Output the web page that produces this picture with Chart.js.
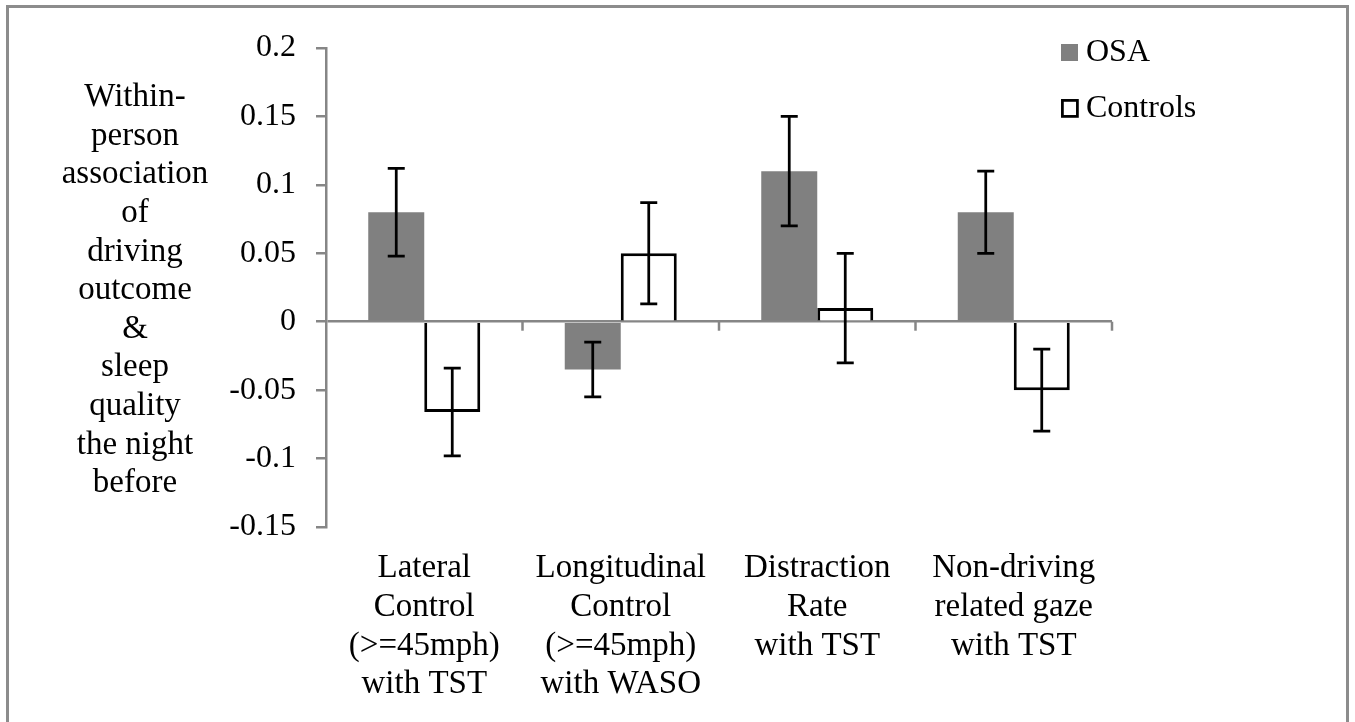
<!DOCTYPE html>
<html>
<head>
<meta charset="utf-8">
<script src="https://cdn.jsdelivr.net/npm/chart.js@4.4.1/dist/chart.umd.min.js"></script>
<style>
  html, body { margin: 0; padding: 0; background: #fff; }
  .frame { position: absolute; left: 6px; top: 5px; width: 1337px; height: 760px; border: 3px solid #8c8c8c; }
  #chart { position: absolute; left: 0; top: 0; }
</style>
</head>
<body>
<div class="frame"></div>
<canvas id="chart" width="1355" height="722"></canvas>
<script>
// categories on the x axis (multi-line)
const categories = [
  ['Lateral', 'Control', '(>=45mph)', 'with TST'],
  ['Longitudinal', 'Control', '(>=45mph)', 'with WASO'],
  ['Distraction', 'Rate', 'with TST'],
  ['Non-driving', 'related gaze', 'with TST']
];
const osaValues = [0.08, -0.035, 0.11, 0.08];
const osaErrors = [0.032, 0.02, 0.04, 0.03];
const controlValues = [-0.066, 0.05, 0.01, -0.05];
const controlErrors = [0.032, 0.037, 0.04, 0.03];
const seriesNames = ['OSA', 'Controls'];
const yMin = -0.15, yMax = 0.2, yStep = 0.05;
const yTitle = ['Within-', 'person', 'association', 'of', 'driving', 'outcome', '&',
  'sleep', 'quality', 'the night', 'before'];

const FONT = "'Liberation Serif', 'Times New Roman', serif";
const AXIS_GRAY = '#868686';
const BAR_GRAY = '#808080';

// error bars, category ticks, y title and legend
const extras = {
  id: 'extras',
  afterDraw(chart) {
    const ctx = chart.ctx;
    const x = chart.scales.x;
    const y = chart.scales.y;
    const area = chart.chartArea;
    const errs = [osaErrors, controlErrors];
    ctx.save();

    // tick marks below the zero line at category boundaries
    const y0 = y.getPixelForValue(0);
    const half = (x.getPixelForValue(1) - x.getPixelForValue(0)) / 2;
    ctx.strokeStyle = AXIS_GRAY;
    ctx.lineWidth = 2.5;
    for (let i = 0; i < categories.length; i++) {
      const px = x.getPixelForValue(i) + half;
      ctx.beginPath();
      ctx.moveTo(px, y0);
      ctx.lineTo(px, y0 + 9);
      ctx.stroke();
    }

    // error bars
    ctx.strokeStyle = '#000';
    ctx.lineWidth = 2.75;
    chart.data.datasets.forEach((ds, di) => {
      chart.getDatasetMeta(di).data.forEach((bar, i) => {
        const v = ds.data[i];
        const top = y.getPixelForValue(v + errs[di][i]);
        const bot = y.getPixelForValue(v - errs[di][i]);
        ctx.beginPath();
        ctx.moveTo(bar.x, top); ctx.lineTo(bar.x, bot);
        ctx.moveTo(bar.x - 8.5, top); ctx.lineTo(bar.x + 8.5, top);
        ctx.moveTo(bar.x - 8.5, bot); ctx.lineTo(bar.x + 8.5, bot);
        ctx.stroke();
      });
    });

    // y axis title, horizontal stacked lines
    ctx.fillStyle = '#000';
    ctx.font = '33px ' + FONT;
    ctx.textAlign = 'center';
    ctx.textBaseline = 'middle';
    const lh = 38.6;
    const mid = (area.top + area.bottom) / 2 + 3;
    const first = mid - lh * (yTitle.length - 1) / 2;
    yTitle.forEach((t, i) => ctx.fillText(t, 135, first + i * lh));

    // legend
    const lx = area.right - 51;
    ctx.fillStyle = BAR_GRAY;
    ctx.fillRect(lx, 44, 17, 17);
    ctx.strokeStyle = '#000';
    ctx.lineWidth = 2.75;
    ctx.strokeRect(lx + 1.4, 100.4, 15, 16);
    ctx.fillStyle = '#000';
    ctx.font = '32px ' + FONT;
    ctx.textAlign = 'left';
    ctx.fillText(seriesNames[0], lx + 25, 53);
    ctx.fillText(seriesNames[1], lx + 25, 109);

    ctx.restore();
  }
};

new Chart(document.getElementById('chart'), {
  type: 'bar',
  data: {
    labels: categories,
    datasets: [
      {
        label: seriesNames[0],
        data: osaValues,
        backgroundColor: BAR_GRAY,
        borderWidth: 0
      },
      {
        label: seriesNames[1],
        data: controlValues,
        backgroundColor: '#fff',
        borderColor: '#000',
        borderWidth: 3
      }
    ]
  },
  options: {
    responsive: false,
    animation: false,
    categoryPercentage: 0.57,
    barPercentage: 1,
    layout: { padding: { top: 48, right: 243, left: 0, bottom: 0 } },
    plugins: {
      legend: { display: false },
      tooltip: { enabled: false }
    },
    scales: {
      x: {
        grid: { display: false, drawTicks: false },
        border: { display: false },
        ticks: {
          color: '#000',
          padding: 22,
          maxRotation: 0,
          autoSkip: false,
          font: { family: FONT, size: 33, lineHeight: 1.175 }
        },
        afterFit(scale) { scale.height = 195; }
      },
      y: {
        z: 1,
        min: yMin,
        max: yMax,
        border: { color: AXIS_GRAY, width: 2.5 },
        grid: {
          color: c => (c.tick && c.tick.value === 0 ? AXIS_GRAY : 'transparent'),
          lineWidth: 2.5,
          tickColor: AXIS_GRAY,
          tickLength: 10
        },
        ticks: {
          stepSize: yStep,
          color: '#000',
          padding: 20,
          font: { family: FONT, size: 32 },
          callback: v => String(Math.round(v * 100) / 100)
        },
        afterFit(scale) { scale.width = 326; }
      }
    }
  },
  plugins: [extras]
});
</script>
</body>
</html>
